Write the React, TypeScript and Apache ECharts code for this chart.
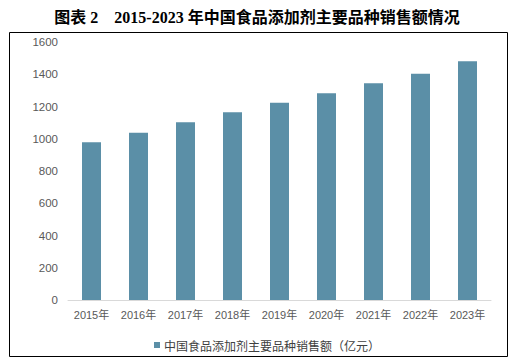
import React, { useEffect, useRef } from "react";
import * as echarts from "echarts";

const categories = ["2015年", "2016年", "2017年", "2018年", "2019年", "2020年", "2021年", "2022年", "2023年"];
const salesValues = [978, 1037, 1102, 1164, 1224, 1282, 1344, 1403, 1480];
const seriesName = "中国食品添加剂主要品种销售额（亿元）";
const titleText = "图表 2    2015-2023 年中国食品添加剂主要品种销售额情况";

export default function App() {
  const ref = useRef<HTMLDivElement>(null);
  useEffect(() => {
    if (!ref.current) return;
    const chart = echarts.init(ref.current, null, { renderer: "svg" });
    chart.setOption({
      animation: false,
      backgroundColor: "#ffffff",
      title: {
        text: titleText,
        left: "center",
        top: 4,
        textStyle: {
          fontFamily: "'Liberation Serif', 'Noto Sans CJK SC', serif",
          fontSize: 16,
          fontWeight: "bold",
          color: "#000000",
        },
      },
      graphic: [
        {
          type: "rect",
          shape: { x: 9.5, y: 32.5, width: 498, height: 324 },
          style: { fill: "none", stroke: "#000000", lineWidth: 1 },
          silent: true,
        },
      ],
      legend: {
        data: [seriesName],
        left: 149,
        top: 334,
        itemWidth: 6,
        itemHeight: 6,
        itemGap: 5,
        icon: "rect",
        textStyle: {
          fontFamily: "'Noto Sans CJK SC', sans-serif",
          fontSize: 12,
          color: "#404040",
          padding: [0, 0, 0, -1],
        },
      },
      grid: { left: 68, right: 23, top: 42, bottom: 58, containLabel: false },
      xAxis: {
        type: "category",
        data: categories,
        axisLine: { show: true, lineStyle: { color: "#d9d9d9", width: 1 } },
        axisTick: { show: false },
        axisLabel: {
          interval: 0,
          margin: 9,
          fontSize: 11,
          color: "#595959",
          fontFamily: "'Liberation Sans', 'Noto Sans CJK SC', sans-serif",
        },
      },
      yAxis: {
        type: "value",
        min: 0,
        max: 1600,
        interval: 200,
        axisLine: { show: false },
        axisTick: { show: false },
        splitLine: { show: false },
        axisLabel: {
          margin: 10,
          fontSize: 11.5,
          color: "#595959",
          fontFamily: "'Liberation Sans', sans-serif",
          formatter: (v: number) => String(v),
        },
      },
      series: [
        {
          name: seriesName,
          type: "bar",
          data: salesValues,
          barWidth: 19,
          itemStyle: { color: "#5b8fa7" },
        },
      ],
    });
    return () => chart.dispose();
  }, []);
  return <div ref={ref} style={{ position: "fixed", left: 0, top: 0, width: 514, height: 358 }} />;
}
